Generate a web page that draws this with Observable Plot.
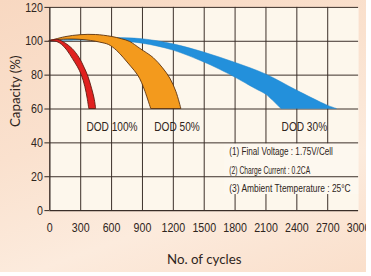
<!DOCTYPE html>
<html><head><meta charset="utf-8">
<script src="https://cdn.jsdelivr.net/npm/d3@7"></script>
<script src="https://cdn.jsdelivr.net/npm/@observablehq/plot@0.6"></script>
<style>
html,body{margin:0;padding:0;background:#fff;}
#wrap{position:relative;width:366px;height:272px;overflow:hidden;
  background:linear-gradient(160deg,#f8d8c1 0%,#fae1ce 40%,#fcebdd 70%,#fadfcb 100%);}
#wrap svg{position:absolute;left:0;top:0;background:transparent;}
</style></head><body><div id="wrap"></div>
<script>
// ---- data ----
const xTicks = [0, 300, 600, 900, 1200, 1500, 1800, 2100, 2400, 2700, 3000];
const yTicks = [0, 20, 40, 60, 80, 100, 120];
const gridXValues = [300, 600, 900, 1200, 1500, 1800, 2100, 2400, 2700];
const gridYValues = [20, 40, 60, 80, 100, 120];

// band edges: [cycles, capacity %] (outer / inner edge, same point count)
const dod100Outer = [[0,100.3],[80,100.8],[150,98.8],[220,95.5],[290,90],[340,84],[375,79],[410,72],[435,66],[450,60]];
const dod100Inner = [[0,100],[70,99.6],[120,97.8],[170,94.5],[224,89.5],[270,85],[310,80],[345,73],[368,66],[383,60]];
const dod50Outer = [[0,100],[150,102.4],[300,103.6],[450,103.7],[600,102.6],[700,101.2],[780,99.6],[880,95.5],[1010,90],[1100,84],[1170,78],[1230,70],[1278,60]];
const dod50Inner = [[0,100],[100,100.8],[250,101],[400,100.2],[490,99.2],[575,97.8],[650,94.5],[720,90],[790,85],[856,80],[895,75.5],[930,70],[985,60]];
const dod30Outer = [[0,100],[300,101.4],[600,101.9],[900,101.2],[1200,98.2],[1500,93.3],[1800,87.3],[2100,80.4],[2400,70.9],[2700,62],[2790,60]];
const dod30Inner = [[0,100],[300,100.4],[600,100.2],[900,98.6],[1200,94.5],[1500,87.5],[1650,83.3],[1800,78.6],[2000,71.8],[2100,68.5],[2250,60]];

const dodNames = ["DOD 100%", "DOD 50%", "DOD 30%"];
const dodLabelX = [604, 1236, 2473];
const dodLabelY = [49.5, 49.5, 49.5];

const noteLines = ["(1) Final Voltage : 1.75V/Cell", "(2) Charge Current : 0.2CA", "(3) Ambient Ttemperature : 25\u00B0C"];
const noteLineY = [34.9, 23.9, 13.4];
const noteX = 1744;
const noteBox = {x1: 1700, x2: 3000, y1: 9.5, y2: 39.5};

const xTitle = "No. of cycles";
const yTitle = "Capacity (%)";

// ---- build ----
const band = (outer, inner) => outer.map(([c, v], i) => ({ox: c, oy: v, ix: inner[i][0], iy: inner[i][1]}));
const dodLabels = dodNames.map((t, i) => ({t, x: dodLabelX[i], y: dodLabelY[i]}));
const notes = noteLines.map((t, i) => ({t, y: noteLineY[i]}));
const noteWidths = [105, 82, 123]; // drawn widths of the condensed note lines, px

const ink = "#2f2520";
const grid = "#3a2e28";
const chart = Plot.plot({
  width: 371, height: 276,
  marginLeft: 50, marginRight: 8, marginTop: 7, marginBottom: 63,
  style: {fontFamily: "'Liberation Sans', Arial, sans-serif", fontSize: "13px", color: ink, background: "transparent", overflow: "visible"},
  x: {domain: [0, 3000], ticks: xTicks, tickFormat: d => String(d), tickSize: 0, tickPadding: 12, label: null},
  y: {domain: [0, 120], ticks: yTicks, tickFormat: d => String(d), tickSize: 5, tickPadding: 2, label: null},
  marks: [
    Plot.frame({fill: "#fdf7ec", stroke: "none"}),
    Plot.ruleX(gridXValues, {stroke: grid, strokeWidth: 1}),
    Plot.rect([noteBox], {x1: "x1", x2: "x2", y1: "y1", y2: "y2", fill: "#fdf8ef"}),
    Plot.ruleY(gridYValues, {stroke: grid, strokeWidth: 1}),
    Plot.area(band(dod30Outer, dod30Inner), {x1: "ox", y1: "oy", x2: "ix", y2: "iy", fill: "#2390db", stroke: "#1f84cc", strokeWidth: 0.5, curve: "catmull-rom"}),
    Plot.area(band(dod50Outer, dod50Inner), {x1: "ox", y1: "oy", x2: "ix", y2: "iy", fill: "#f39a1d", stroke: "#5a3210", strokeWidth: 0.9, curve: "catmull-rom"}),
    Plot.area(band(dod100Outer, dod100Inner), {x1: "ox", y1: "oy", x2: "ix", y2: "iy", fill: "#e0211f", stroke: "#5e1a10", strokeWidth: 0.9, curve: "catmull-rom"}),
    Plot.ruleX([0], {stroke: grid, strokeWidth: 1.4}),
    Plot.ruleY([0], {stroke: grid, strokeWidth: 1.4}),
    Plot.text(dodLabels, {x: "x", y: "y", text: "t", fontSize: 13, fill: ink}),
    Plot.text(notes, {x: () => noteX, y: "y", text: "t", textAnchor: "start", fontSize: 11.5, fill: ink}),
    Plot.text([xTitle], {text: d => d, frameAnchor: "bottom", lineAnchor: "middle", dy: 50, fontFamily: "Lato", fontSize: 13.5, fill: ink}),
    Plot.text([yTitle], {text: d => d, frameAnchor: "left", textAnchor: "middle", lineAnchor: "middle", dx: -35, dy: -18, rotate: -90, fontFamily: "Lato", fontSize: 13.5, fill: ink})
  ]
});
document.getElementById("wrap").appendChild(chart);

// narrow the lettering to match the condensed face of the reference
for (const t of chart.querySelectorAll("text")) {
  const s = t.textContent;
  if (s === xTitle || s === yTitle) continue;
  const ni = noteLines.indexOf(s);
  const target = ni >= 0 ? noteWidths[ni] : t.getComputedTextLength() * (/DOD/.test(s) ? 0.79 : 0.83);
  if (target > 0) {
    t.setAttribute("textLength", target.toFixed(1));
    t.setAttribute("lengthAdjust", "spacingAndGlyphs");
  }
}
</script>
</body></html>
